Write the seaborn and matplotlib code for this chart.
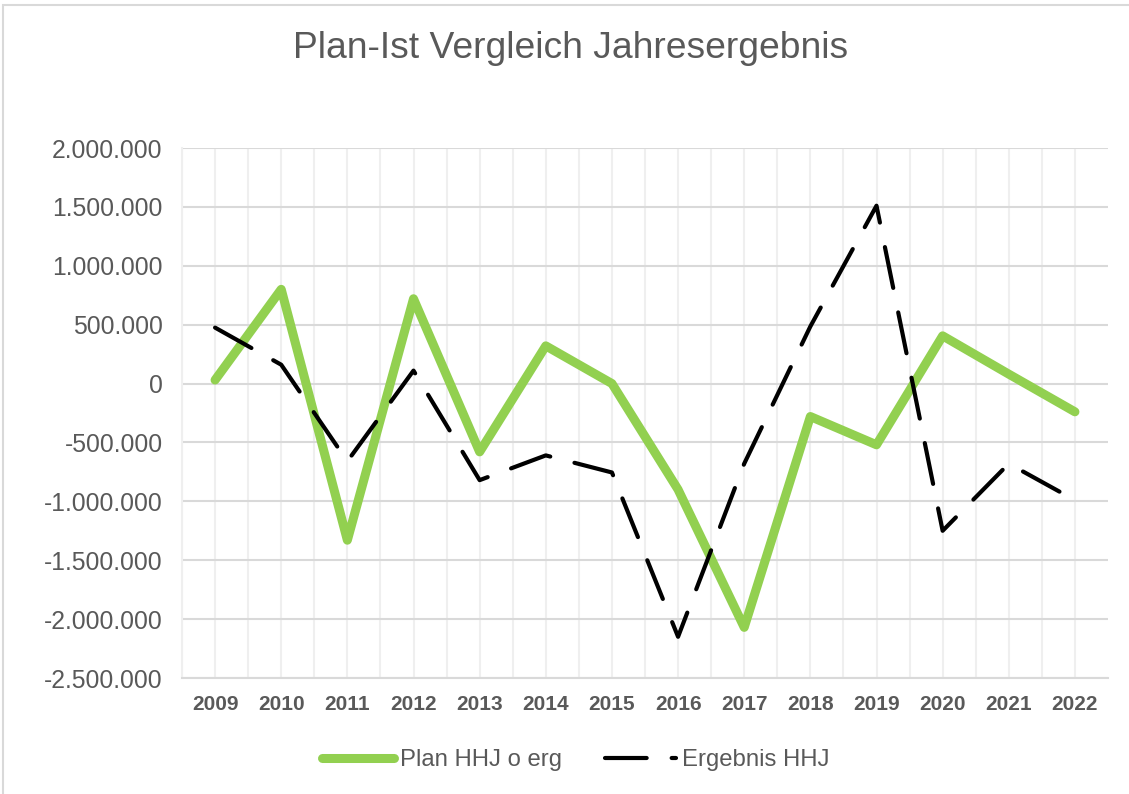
import matplotlib
matplotlib.use("Agg")
import matplotlib.pyplot as plt
import matplotlib.ticker as mticker
from matplotlib.patches import Rectangle
import seaborn as sns
import pandas as pd

years = [2009, 2010, 2011, 2012, 2013, 2014, 2015, 2016, 2017, 2018, 2019, 2020, 2021, 2022]
plan = [30000, 800000, -1330000, 720000, -580000, 320000, 0, -900000, -2070000,
        -280000, -520000, 405000, 80000, -240000]
ergebnis = [475000, 160000, -660000, 110000, -820000, -610000, -755000, -2150000, -680000,
            485000, 1510000, -1250000, -680000, -990000]
series_names = ["Plan HHJ o erg", "Ergebnis HHJ"]
title = "Plan-Ist Vergleich Jahresergebnis"

sns.set_theme(style="white")
plt.rcParams["font.family"] = ["Liberation Sans", "DejaVu Sans"]

TXT = "#595959"
fig = plt.figure(figsize=(11.29, 7.94), dpi=100)
ax = fig.add_axes([182/1129, 1-678/794, (1108-182)/1129, (678-148)/794])

df = pd.DataFrame({"Jahr": years, "plan": plan, "erg": ergebnis})
sns.lineplot(data=df, x="Jahr", y="plan", ax=ax, color="#92D050", linewidth=6.5,
             solid_capstyle="round", solid_joinstyle="round", label=series_names[0])
sns.lineplot(data=df, x="Jahr", y="erg", ax=ax, color="black", linewidth=3,
             linestyle=(0, (10, 6)), dash_capstyle="round", label=series_names[1])

ax.set_xlim(years[0] - 0.5, years[-1] + 0.5)
ax.set_ylim(-2500000, 2000000)
ax.yaxis.set_major_locator(mticker.MultipleLocator(500000))
ax.yaxis.set_major_formatter(mticker.FuncFormatter(lambda v, p: f"{int(round(v)):,}".replace(",", ".")))
ax.set_xticks(years)
ax.set_xticks([y + 0.5 for y in years[:-1]] + [years[0] - 0.5], minor=True)
ax.set_xticklabels([str(y) for y in years], fontweight="bold", fontsize=15, color=TXT)
ax.tick_params(axis="y", labelsize=17.8, labelcolor=TXT, length=0, pad=14)
ax.tick_params(axis="x", which="both", length=0, pad=12)
ax.set_xlabel("")
ax.set_ylabel("")

ax.grid(axis="y", color="#d9d9d9", linewidth=1.5)
ax.grid(axis="x", which="both", color="#efefef", linewidth=1.5)
ax.set_axisbelow(True)
for s in ["top", "right"]:
    ax.spines[s].set_visible(False)
ax.spines["left"].set_color("#efefef")
ax.spines["left"].set_linewidth(1.5)
ax.spines["bottom"].set_color("#d9d9d9")
ax.spines["bottom"].set_linewidth(1.5)

fig.text(0.505, 1-49/794, title, ha="center", va="center", fontsize=26.8, color=TXT)

leg = ax.legend(loc="center", bbox_to_anchor=((576-182)/926, (678-760)/530), ncol=2, frameon=False,
                fontsize=17.2, handlelength=3, columnspacing=1.8, handletextpad=0.25)
for t in leg.get_texts():
    t.set_color(TXT)

fig.patches.append(Rectangle((3/1129, -0.01), 1.02, 1 - 5/794 + 0.01, transform=fig.transFigure,
                             fill=False, edgecolor="#d9d9d9", linewidth=1.5))

fig.savefig("out.png", dpi=100)
